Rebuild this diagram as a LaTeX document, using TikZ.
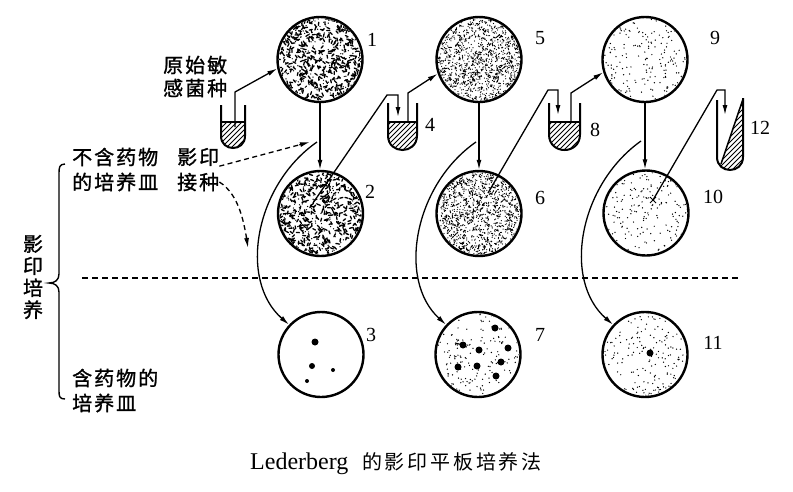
\documentclass[tikz,border=0pt]{standalone}
\usepackage{fontspec}
\setmainfont{Liberation Serif}
\newfontfamily\cjk[LetterSpace=10,FakeBold=1.2]{Noto Sans CJK SC}
\newfontfamily\cjkcap[LetterSpace=14]{Noto Sans CJK SC}
\usetikzlibrary{arrows.meta,calc}

\newcommand\dishstrokes[6]{% cx cy seed count len lw
 \begin{scope}
  \clip (#1,#2) circle[radius=41pt];
  \pgfmathsetseed{#3}
  \foreach \k in {1,...,#4}{
    \pgfmathsetmacro\px{#1+42*rand}
    \pgfmathsetmacro\py{#2+42*rand}
    \pgfmathsetmacro\pa{180*rand}
    \draw[line width=#6pt, line cap=round] (\px,\py) -- ++(\pa:#5);
  }
 \end{scope}}

\newcommand\dishdots[5]{% cx cy seed count radius
 \begin{scope}
  \clip (#1,#2) circle[radius=41pt];
  \pgfmathsetseed{#3}
  \foreach \k in {1,...,#4}{
    \pgfmathsetmacro\px{#1+42*rand}
    \pgfmathsetmacro\py{#2+42*rand}
    \fill (\px,\py) circle[radius=#5pt];
  }
 \end{scope}}

\newcommand\utube[5]{% left right top liquidtop bottom
 \pgfmathsetmacro\tubR{(#2-#1)/2}
 \pgfmathsetmacro\tubY{#5-\tubR}
 \pgfmathsetmacro\tubC{#5+\tubR/3}
 \begin{scope}
  \clip (#1,#4) -- (#1,\tubY) .. controls (#1,\tubC) and (#2,\tubC) .. (#2,\tubY) -- (#2,#4) -- cycle;
  \foreach \h in {-45,-40,...,40} \draw[line width=1pt] (#1+\h,#5+5) -- ++(45,-45);
 \end{scope}
 \draw[tubeline] (#1,#3) -- (#1,\tubY) .. controls (#1,\tubC) and (#2,\tubC) .. (#2,\tubY) -- (#2,#3);
 \draw[line width=1.5pt] (#1,#4) -- (#2,#4);
}

\begin{document}
\begin{tikzpicture}[x=1pt,y=-1pt,
 dish/.style={circle, draw, line width=2.4pt, minimum size=85pt, inner sep=0pt},
 arr/.style={line width=1.3pt, -{Latex[length=10pt,width=5pt]}},
 dashline/.style={line width=1.3pt, dash pattern=on 5pt off 3.5pt},
 num/.style={font=\fontsize{20}{20}\selectfont, inner sep=0pt},
 lbl/.style={font=\cjk\fontsize{20}{20}\selectfont, inner sep=0pt, anchor=west},
 tubeline/.style={line width=2pt},
 colony/.style={fill=black}]
\useasboundingbox (0,0) rectangle (793,491);

% textures
\dishstrokes{320}{59.5}{11}{470}{3}{1.3}
\dishdots{320}{59.5}{111}{250}{0.7}
\dishstrokes{320.5}{213.5}{12}{470}{3}{1.3}
\dishdots{320.5}{213.5}{112}{250}{0.7}
\dishdots{479}{59.5}{21}{1100}{0.62}
\dishstrokes{479}{59.5}{121}{200}{2.2}{1}
\dishdots{479}{213.5}{22}{1100}{0.62}
\dishstrokes{479}{213.5}{122}{200}{2.2}{1}
\dishdots{645}{59.5}{31}{210}{0.7}
\dishdots{646}{213}{32}{210}{0.7}
\dishdots{645}{354.5}{33}{220}{0.7}
\dishdots{478}{354.5}{41}{200}{0.7}

% dishes
\node[dish] (c1) at (320,59.5) {};
\node[dish] (c2) at (320.5,213.5) {};
\node[dish] (c3) at (321,354.5) {};
\node[dish] (c5) at (479,59.5) {};
\node[dish] (c6) at (479,213.5) {};
\node[dish] (c7) at (478,354.5) {};
\node[dish] (c9) at (645,59.5) {};
\node[dish] (c10) at (646,213) {};
\node[dish] (c11) at (645,354.5) {};

% colonies
\fill[colony] (315,342) circle[radius=3.5pt] (312,366) circle[radius=3pt]
  (333,370) circle[radius=2pt] (307,381) circle[radius=2pt];
\fill[colony] (495,328) circle[radius=3.5pt] (463,345) circle[radius=3.5pt]
  (479,350) circle[radius=3.5pt] (508,348) circle[radius=3.5pt]
  (458,367) circle[radius=3.5pt] (477,366) circle[radius=3.5pt]
  (501,362) circle[radius=3.5pt] (496,376) circle[radius=3.5pt];
\draw[line width=1.2pt] (455,343) -- (463,345);
\fill[colony] (650,353) circle[radius=3.5pt];

% numbers
\node[num] (n1) at (372,40) {1};
\node[num] (n2) at (370,192) {2};
\node[num] (n3) at (371,335) {3};
\node[num] (n4) at (430,125) {4};
\node[num] (n5) at (540,38) {5};
\node[num] (n6) at (540,198) {6};
\node[num] (n7) at (540,335) {7};
\node[num] (n8) at (595,130) {8};
\node[num] (n9) at (715,38) {9};
\node[num] (n10) at (713,197) {10};
\node[num] (n11) at (713,343) {11};
\node[num] (n12) at (760,128) {12};

% tubes
\utube{221}{245}{105}{122}{148}
\utube{388}{417}{103}{122}{150}
\utube{549}{580}{103}{122}{150}
\begin{scope}
 \clip (717,100) -- (717,157) .. controls (717,174.3) and (743,174.3) .. (743,157) -- (743,99) -- cycle;
 \clip (743,99) -- (721,163) -- (712,185) -- (750,185) -- (750,99) -- cycle;
 \foreach \h in {-45,-40,...,50} \draw[line width=1pt] (717+\h,175) -- ++(50,-50);
 \foreach \h in {-45,-40,...,50} \draw[line width=1pt] (717+\h,125) -- ++(50,-50);
\end{scope}
\draw[tubeline] (717,100) -- (717,157) .. controls (717,174.3) and (743,174.3) .. (743,157) -- (743,98);
\draw[line width=1.5pt] (743,99) -- (721,164);

% labels
\node[lbl] (t1a) at (163,65) {原始敏};
\node[lbl] (t1b) at (163,88) {感菌种};
\node[lbl] (t2a) at (72,157) {不含药物};
\node[lbl] (t2b) at (72,182) {的培养皿};
\node[lbl] (yy) at (177,157) {影印};
\node[lbl] (jz) at (177,182) {接种};
\node[lbl] (t3a) at (72,378) {含药物的};
\node[lbl] (t3b) at (72,403) {培养皿};
\node[font=\cjk\fontsize{20}{22}\selectfont, align=center, inner sep=0pt] (vt) at (33,277) {影\\印\\培\\养};
\node[font=\fontsize{24}{24}\selectfont, anchor=base west, inner sep=0pt] (capL) at (250,469) {Lederberg};
\node[font=\cjkcap\fontsize{20}{20}\selectfont, inner sep=0pt, anchor=west] (capC) at (362,462) {的影印平板培养法};

% brace
\draw[line width=1.4pt] (65,164) .. controls (59,164) and (59,168) .. (59,174) -- (59,274)
  .. controls (59,280) and (55,283) .. (49,283) .. controls (55,283) and (59,286) .. (59,292)
  -- (59,390) .. controls (59,396) and (59,399) .. (65,399);

% dashed separator
\coordinate (dl) at (82,278);
\coordinate (dr) at (740,278);
\draw[line width=1.3pt, dash pattern=on 6pt off 4pt] (dl) -- (dr);

% vertical arrows
\draw[arr] (c1.south) -- (c1.south |- c2.north);
\draw[arr] (c5.south) -- (c5.south |- c6.north);
\draw[arr] (c9.south) -- (c9.south |- c10.north);

% lead lines with tubes
\coordinate (s1) at (235,127);
\draw[arr] (s1) -- (235,92) -- (c1.192);
\coordinate (s2) at (313,203);
\coordinate (k4) at (398,117);
\draw[arr] (s2) -- (387,95) -- (398,95) -- (k4);
\coordinate (s4) at (408,122);
\draw[arr] (s4) -- (408,93) -- (c5.199);
\coordinate (s6) at (488,193);
\coordinate (k8) at (558,115);
\draw[arr] (s6) -- (548,90) -- (558,90) -- (k8);
\coordinate (s8) at (571,122);
\draw[arr] (s8) -- (571,93) -- (c9.197);
\coordinate (s10) at (653,200);
\coordinate (k12) at (725,115);
\draw[arr] (s10) -- (717,90) -- (725,90) -- (k12);
\draw[line width=1pt] (650,197) -- (656,203) (656,197) -- (650,203);

% curved arrows
\coordinate (r1) at (317,142);
\coordinate (r2) at (476,142);
\coordinate (r3) at (641,141);
\draw[arr] (r1) .. controls (255,185) and (238,280) .. (c3.137);
\draw[arr] (r2) .. controls (414,185) and (397,280) .. (c7.137);
\draw[arr] (r3) .. controls (579,185) and (562,280) .. (c11.137);

% dashed arrows
\coordinate (d1) at (310,142);
\coordinate (d2) at (248,248);
\draw[dashline] (yy.south east) -- ($(d1)!9pt!(yy.south east)$);
\draw[arr] ($(d1)!11pt!(yy.south east)$) -- (d1);
\draw[dashline] (jz.east) .. controls (240,195) and (244,225) .. (246.6,238);
\draw[arr] (246.3,236.5) -- (d2);
\end{tikzpicture}
\end{document}
